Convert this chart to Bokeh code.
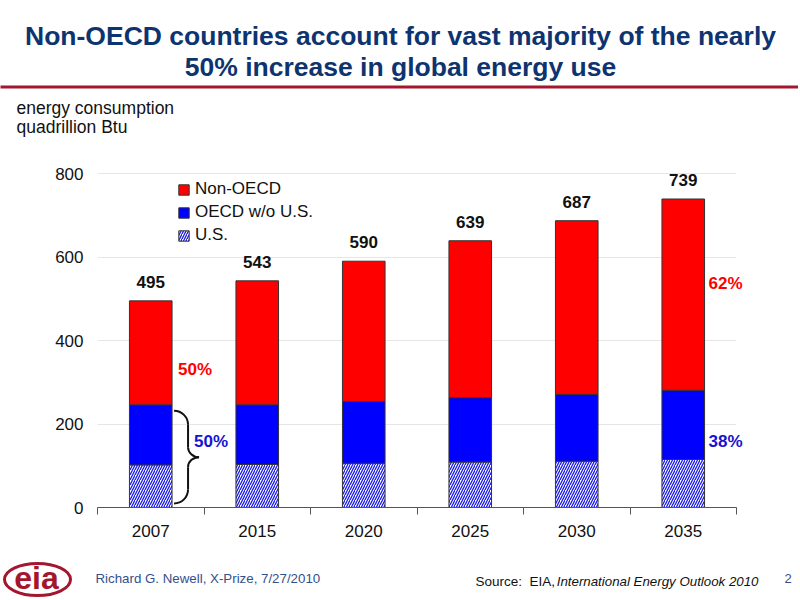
from bokeh.plotting import figure
from bokeh.models import Range1d, FixedTicker, Legend, LegendItem, ColumnDataSource
from bokeh.embed import file_html
from bokeh.resources import INLINE
from bokeh.core.properties import value

# ---------------- data ----------------
years = ["2007", "2015", "2020", "2025", "2030", "2035"]
us = [102, 103, 106, 109, 111, 115]
oecd_wo_us = [144, 143, 148, 154, 160, 166]
non_oecd = [249, 297, 336, 376, 416, 458]
totals = [495, 543, 590, 639, 687, 739]
y_ticks = [0, 200, 400, 600, 800]
share_labels = ["50%", "50%", "62%", "38%"]

FONT = "Liberation Sans"
NAVY = "#0E3470"
DARKRED = "#A3162E"
W, H = 798, 598
# frame geometry (canvas pixels)
FL, FR, FT, FB = 97, 62, 148, 91
FW, FH = W - FL - FR, H - FT - FB
X0, X1 = 0.5, 6.5
Y0, Y1 = 0, 860


def dx(px):
    """canvas pixel x -> data x (for decorations placed outside the frame)"""
    return X0 + (px - FL) * (X1 - X0) / FW


def dy(py):
    return Y0 + (H - FB - py) * (Y1 - Y0) / FH


xs = [i + 1 for i in range(len(years))]
src = ColumnDataSource(dict(x=xs, us=us, oecd=oecd_wo_us, non=non_oecd,
                            total=totals, total_label=[str(t) for t in totals]))

p = figure(width=W, height=H, x_range=Range1d(X0, X1), y_range=Range1d(Y0, Y1),
           output_backend="svg", toolbar_location=None,
           min_border_left=FL, min_border_right=FR, min_border_top=FT, min_border_bottom=FB)
p.outline_line_color = None

rs = p.vbar_stack(["us", "oecd", "non"], x="x", width=0.4, source=src,
                  fill_color=["white", "#0000FF", "#FF0000"],
                  line_color="#333333", line_width=1,
                  hatch_pattern=["/", " ", " "], hatch_color="#1A1AE6",
                  hatch_weight=1.3, hatch_scale=5)

# axes
p.xaxis.ticker = FixedTicker(ticks=xs, minor_ticks=[x - 0.5 for x in xs] + [xs[-1] + 0.5])
p.xaxis.major_label_overrides = {x: y for x, y in zip(xs, years)}
p.xaxis.axis_line_color = "#555555"
p.xaxis.major_tick_line_color = None
p.xaxis.major_tick_out = 0
p.xaxis.major_tick_in = 0
p.xaxis.minor_tick_line_color = "#555555"
p.xaxis.minor_tick_out = 7
p.xaxis.minor_tick_in = 0
p.xaxis.major_label_standoff = 10
p.xaxis.major_label_text_font = FONT
p.xaxis.major_label_text_font_size = "17px"
p.xaxis.major_label_text_color = "#111111"

p.yaxis.ticker = FixedTicker(ticks=y_ticks, minor_ticks=[])
p.yaxis.axis_line_color = None
p.yaxis.major_tick_line_color = None
p.yaxis.minor_tick_line_color = None
p.yaxis.major_tick_out = 0
p.yaxis.major_tick_in = 0
p.yaxis.major_label_standoff = 14
p.yaxis.major_label_text_font = FONT
p.yaxis.major_label_text_font_size = "17px"
p.yaxis.major_label_text_color = "#111111"

p.xgrid.visible = False
p.ygrid.ticker = FixedTicker(ticks=y_ticks[1:])
p.ygrid.grid_line_color = "#e6e6e6"

# totals above bars
p.text(x="x", y="total", text="total_label", source=src, text_align="center",
       text_baseline="middle", y_offset=-19, text_font=value(FONT),
       text_font_style="bold", text_font_size="17px", text_color="#111111")

# share labels (anchored at bar right edges); overlay level so they are not clipped
edge = 0.2
sh = ColumnDataSource(dict(
    x=[xs[0] + edge, xs[0] + edge, xs[-1] + edge, xs[-1] + edge],
    y=[330, 158, 537, 158],
    xo=[6, 22, 4, 4],
    text=share_labels,
    color=["#FF0000", "#1414D2", "#FF0000", "#1414D2"]))
p.text(x="x", y="y", text="text", x_offset="xo", source=sh, text_color="color",
       text_align="left", text_baseline="middle", text_font=value(FONT),
       text_font_style="bold", text_font_size="17px", level="overlay")

# curly brace beside the 2007 OECD part
cw = (X1 - X0) / FW
ch = (Y1 - Y0) / FH
xl = xs[0] + edge + 2 * cw
xm = xs[0] + edge + 16 * cw
xt = xs[0] + edge + 27 * cw
top = us[0] + oecd_wo_us[0] - 6 * ch
bot = 4 * ch
mid = (top + bot) / 2
h = 14 * ch
h2 = 10 * ch
k = 0.552
bx0 = [xl, xm, xm, xt, xm, xm]
by0 = [top, top - h, mid + h2, mid, mid - h2, bot + h]
bx1 = [xm, xm, xt, xm, xm, xl]
by1 = [top - h, mid + h2, mid, mid - h2, bot + h, bot]
bcx0 = [xl + k * (xm - xl), xm, xm, xt - k * (xt - xm), xm, xm]
bcy0 = [top, top - h, mid + h2 - k * h2, mid, mid - h2, bot + h - k * h]
bcx1 = [xm, xm, xt - k * (xt - xm), xm, xm, xl + k * (xm - xl)]
bcy1 = [top - h + k * h, mid + h2, mid, mid - h2 + k * h2, bot + h, bot]
p.bezier(x0=bx0, y0=by0, x1=bx1, y1=by1, cx0=bcx0, cy0=bcy0, cx1=bcx1, cy1=bcy1,
         line_color="#111111", line_width=2)

legend = Legend(items=[LegendItem(label="Non-OECD", renderers=[rs[2]]),
                       LegendItem(label="OECD w/o U.S.", renderers=[rs[1]]),
                       LegendItem(label="U.S.", renderers=[rs[0]])],
                location=(80, 262), glyph_width=13, glyph_height=13, label_height=13,
                spacing=3, padding=0, margin=0, label_standoff=5,
                border_line_color=None, background_fill_alpha=0,
                label_text_font=FONT, label_text_font_size="17px",
                label_text_color="#111111")
p.add_layout(legend)

# ---------------- header (overlay-level glyphs, outside the frame) ----------------
p.text(x=[dx(400), dx(400)], y=[dy(35.5), dy(66)],
       text=["Non-OECD countries account for vast majority of the nearly",
             "50% increase in global energy use"],
       text_align="center", text_baseline="middle", text_color=NAVY,
       text_font=value(FONT), text_font_style="bold", text_font_size="26.5px",
       level="overlay")
p.segment(x0=[dx(0)], y0=[dy(86.5)], x1=[dx(800)], y1=[dy(86.5)],
          line_color=DARKRED, line_width=3, level="overlay")
p.text(x=[dx(16), dx(16)], y=[dy(107), dy(126)],
       text=["energy consumption", "quadrillion Btu"],
       text_align="left", text_baseline="middle", text_color="#111111",
       text_font=value(FONT), text_font_size="17.5px", level="overlay")

# ---------------- footer ----------------
p.ellipse(x=[dx(37)], y=[dy(579)], width=[66 * cw], height=[32 * ch],
          fill_color=None, line_color=DARKRED, line_width=3, level="overlay")
p.text(x=[dx(36)], y=[dy(577)], text=["eia"], text_align="center",
       text_baseline="middle", text_color=DARKRED, text_font=value(FONT),
       text_font_style="bold", text_font_size="32px", level="overlay")
p.text(x=[dx(95)], y=[dy(578)], text=["Richard G. Newell, X-Prize, 7/27/2010"],
       text_align="left", text_baseline="middle", text_color="#31508C",
       text_font=value(FONT), text_font_size="13.3px", level="overlay")
p.text(x=[dx(475)], y=[dy(581)], text=["Source:\u00a0\u00a0EIA,"], text_align="left",
       text_baseline="middle", text_color="#111111",
       text_font=value(FONT), text_font_size="13.5px", level="overlay")
p.text(x=[dx(758)], y=[dy(581)], text=["International Energy Outlook 2010"],
       text_align="right", text_baseline="middle", text_color="#111111",
       text_font=value(FONT), text_font_style="italic", text_font_size="13.3px",
       level="overlay")
p.text(x=[dx(787.5)], y=[dy(578)], text=["2"], text_align="center",
       text_baseline="middle", text_color="#31508C",
       text_font=value(FONT), text_font_size="13px", level="overlay")

open("out.html", "w").write(file_html(p, INLINE))
